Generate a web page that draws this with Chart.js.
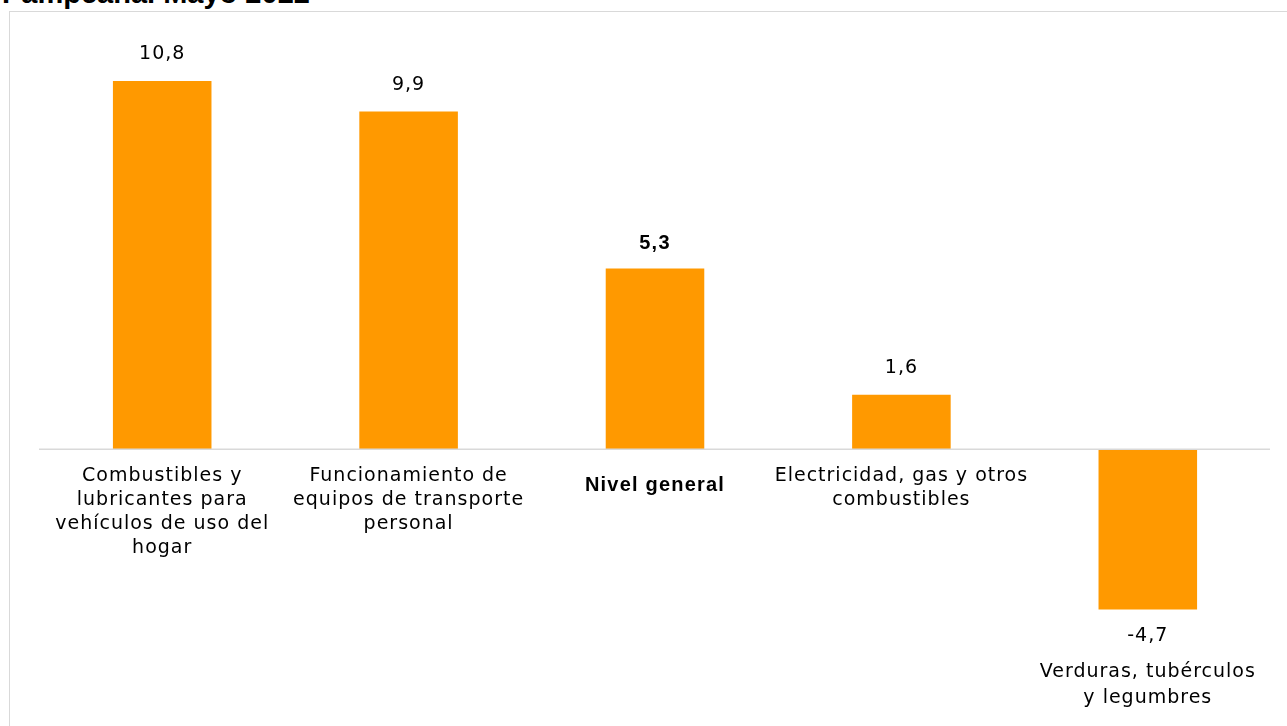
<!DOCTYPE html>
<html>
<head>
<meta charset="utf-8">
<script src="https://cdn.jsdelivr.net/npm/chart.js@4"></script>
<style>
  html, body { margin:0; padding:0; background:#fff; overflow:hidden; }
  #wrap { position:relative; width:1287px; height:726px; }
  #title { position:absolute; left:2px; top:-23px; font:bold 29px "Liberation Sans", Arial, sans-serif; line-height:33px; color:#000; white-space:nowrap; }
  #frame { position:absolute; left:9px; top:11px; width:1300px; height:730px; border-left:1px solid #d9d9d9; border-top:1px solid #d9d9d9; }
  canvas { position:absolute; left:0; top:0; }
</style>
</head>
<body>
<div id="wrap">
  <div id="title">Pampeana. Mayo 2022</div>
  <div id="frame"></div>
  <canvas id="chart" width="1287" height="726"></canvas>
</div>
<script>
// data
var categories = [
  ['Combustibles y', 'lubricantes para', 'vehículos de uso del', 'hogar'],
  ['Funcionamiento de', 'equipos de transporte', 'personal'],
  ['Nivel general'],
  ['Electricidad, gas y otros', 'combustibles'],
  ['Verduras, tubérculos', 'y legumbres']
];
var values     = [10.8, 9.9, 5.3, 1.6, -4.7];
var boldIndex  = 2;   // "Nivel general"

var BAR_COLOR  = '#ff9900';
var FONT_REG   = '"DejaVu Sans", sans-serif';
var FONT_BOLD  = '"Liberation Sans", Arial, sans-serif';

function fmt(v){ return v.toFixed(1).replace('.', ','); }

// labels + zero line drawn off the library's scales
var labelPlugin = {
  id: 'labels',
  afterDatasetsDraw: function(chart){
    var ctx  = chart.ctx;
    var y    = chart.scales.y;
    var area = chart.chartArea;
    var zero = y.getPixelForValue(0);
    var meta = chart.getDatasetMeta(0);

    ctx.save();
    ctx.strokeStyle = '#d9d9d9';
    ctx.lineWidth = 1.5;
    ctx.beginPath();
    ctx.moveTo(area.left, zero);
    ctx.lineTo(area.right - 1, zero);
    ctx.stroke();

    ctx.fillStyle = '#000';
    ctx.textAlign = 'center';
    ctx.textBaseline = 'alphabetic';
    meta.data.forEach(function(bar, i){
      var v    = values[i];
      var bold = (i === boldIndex);
      var end  = y.getPixelForValue(v);
      if(bold){ ctx.font = 'bold 20px ' + FONT_BOLD; ctx.letterSpacing = '1.2px'; }
      else    { ctx.font = '19px ' + FONT_REG;       ctx.letterSpacing = '1px'; }
      var lines = categories[i];
      var startY;
      if(v >= 0){
        ctx.fillText(fmt(v), bar.x, end - (bold ? 19 : 22));
        startY = zero + (bold ? 42 : 32);
      } else {
        ctx.fillText(fmt(v), bar.x, end + 32);
        startY = end + 68;
      }
      lines.forEach(function(t, k){
        ctx.fillText(t, bar.x, startY + k * (v >= 0 ? 24 : 26));
      });
    });
    ctx.restore();
  }
};

new Chart(document.getElementById('chart'), {
  type: 'bar',
  data: {
    labels: categories,
    datasets: [{
      data: values,
      backgroundColor: BAR_COLOR,
      borderWidth: 0,
      barPercentage: 0.4,
      categoryPercentage: 1
    }]
  },
  options: {
    responsive: false,
    animation: false,
    devicePixelRatio: 1,
    layout: { padding: { left: 39, right: 16, top: 40, bottom: 4 } },
    plugins: { legend: { display: false }, tooltip: { enabled: false } },
    scales: {
      x: { display: false },
      y: { display: false, min: -8, max: 12 }
    }
  },
  plugins: [labelPlugin]
});
</script>
</body>
</html>
